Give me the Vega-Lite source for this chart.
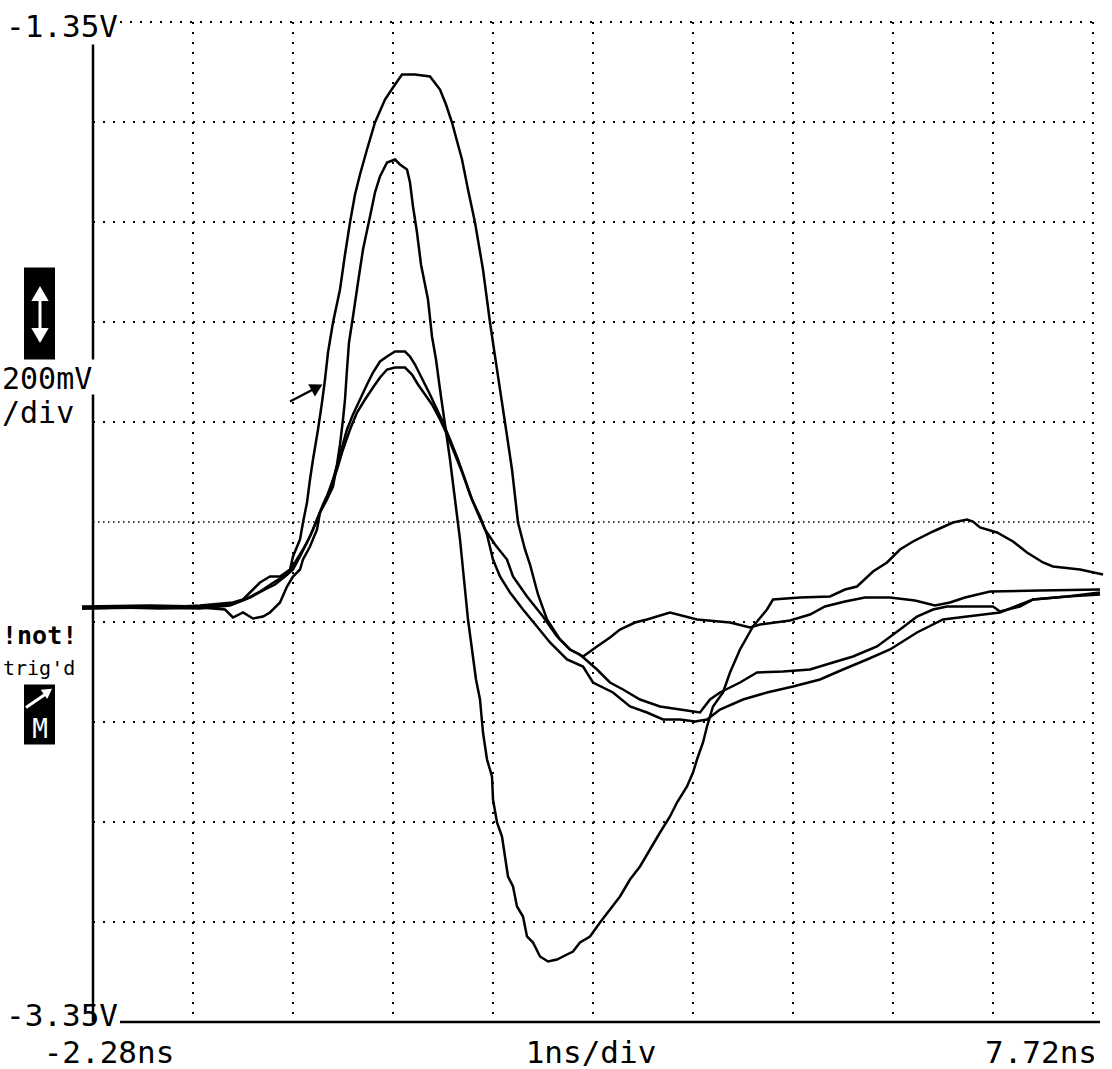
{
 "$schema": "https://vega.github.io/schema/vega-lite/v6.json",
 "width": 1000, "height": 1000,
 "autosize": {"type": "none"},
 "padding": {"left": 93, "top": 22, "right": 19, "bottom": 47},
 "background": "white",
 "config": {"view": {"stroke": null}, "text": {"font": "DejaVu Sans Mono"}},
 "datasets": {
  "hgrid": [
   {"t": -2.01, "t2": 7.72, "v": -1.35},
   {"t": -2.28, "t2": 7.72, "v": -1.55},
   {"t": -2.28, "t2": 7.72, "v": -1.75},
   {"t": -2.28, "t2": 7.72, "v": -1.95},
   {"t": -2.28, "t2": 7.72, "v": -2.15},
   {"t": -2.28, "t2": 7.72, "v": -2.55},
   {"t": -2.28, "t2": 7.72, "v": -2.75},
   {"t": -2.28, "t2": 7.72, "v": -2.95},
   {"t": -2.28, "t2": 7.72, "v": -3.15}
  ],
  "center": [{"t": -2.28, "t2": 7.72, "v": -2.35}],
  "vgrid": [
   {"t": -1.28, "v": -1.35, "v2": -3.35},
   {"t": -0.28, "v": -1.35, "v2": -3.35},
   {"t": 0.72, "v": -1.35, "v2": -3.35},
   {"t": 1.72, "v": -1.35, "v2": -3.35},
   {"t": 2.72, "v": -1.35, "v2": -3.35},
   {"t": 3.72, "v": -1.35, "v2": -3.35},
   {"t": 4.72, "v": -1.35, "v2": -3.35},
   {"t": 5.72, "v": -1.35, "v2": -3.35},
   {"t": 6.72, "v": -1.35, "v2": -3.35},
   {"t": 7.72, "v": -1.35, "v2": -3.35}
  ],
  "axislines": [
   {"t": -2.28, "t2": -2.28, "v": -1.395, "v2": -2.025},
   {"t": -2.28, "t2": -2.28, "v": -2.095, "v2": -3.35},
   {"t": -2.01, "t2": 7.79, "v": -3.35, "v2": -3.35}
  ],
  "curves": [
   {"s":"A","t":-2.39,"v":-2.521},{"s":"A","t":-2.01,"v":-2.519},{"s":"A","t":-1.61,"v":-2.521},{"s":"A","t":-1.21,"v":-2.517},{"s":"A","t":-0.88,"v":-2.511},{"s":"A","t":-0.78,"v":-2.505},{"s":"A","t":-0.68,"v":-2.485},{"s":"A","t":-0.61,"v":-2.471},{"s":"A","t":-0.51,"v":-2.459},{"s":"A","t":-0.41,"v":-2.459},{"s":"A","t":-0.31,"v":-2.445},{"s":"A","t":-0.28,"v":-2.419},{"s":"A","t":-0.21,"v":-2.385},{"s":"A","t":-0.18,"v":-2.351},{"s":"A","t":-0.14,"v":-2.311},{"s":"A","t":-0.11,"v":-2.265},{"s":"A","t":-0.08,"v":-2.225},{"s":"A","t":-0.03,"v":-2.165},{"s":"A","t":0.01,"v":-2.111},{"s":"A","t":0.04,"v":-2.065},{"s":"A","t":0.07,"v":-2.011},{"s":"A","t":0.12,"v":-1.951},{"s":"A","t":0.19,"v":-1.885},{"s":"A","t":0.24,"v":-1.815},{"s":"A","t":0.29,"v":-1.751},{"s":"A","t":0.34,"v":-1.695},{"s":"A","t":0.39,"v":-1.655},{"s":"A","t":0.46,"v":-1.605},{"s":"A","t":0.54,"v":-1.551},{"s":"A","t":0.64,"v":-1.505},{"s":"A","t":0.72,"v":-1.481},{"s":"A","t":0.81,"v":-1.455},{"s":"A","t":0.94,"v":-1.455},{"s":"A","t":1.09,"v":-1.459},{"s":"A","t":1.19,"v":-1.485},{"s":"A","t":1.25,"v":-1.515},{"s":"A","t":1.31,"v":-1.551},{"s":"A","t":1.41,"v":-1.625},{"s":"A","t":1.47,"v":-1.685},{"s":"A","t":1.54,"v":-1.751},{"s":"A","t":1.62,"v":-1.845},{"s":"A","t":1.69,"v":-1.951},{"s":"A","t":1.76,"v":-2.045},{"s":"A","t":1.84,"v":-2.151},{"s":"A","t":1.91,"v":-2.245},{"s":"A","t":1.97,"v":-2.351},{"s":"A","t":2.04,"v":-2.405},{"s":"A","t":2.09,"v":-2.435},{"s":"A","t":2.17,"v":-2.495},{"s":"A","t":2.26,"v":-2.545},{"s":"A","t":2.39,"v":-2.585},{"s":"A","t":2.49,"v":-2.605},{"s":"A","t":2.62,"v":-2.619},{"s":"A","t":2.76,"v":-2.599},{"s":"A","t":2.89,"v":-2.581},{"s":"A","t":2.99,"v":-2.565},{"s":"A","t":3.14,"v":-2.551},{"s":"A","t":3.26,"v":-2.545},{"s":"A","t":3.49,"v":-2.531},{"s":"A","t":3.76,"v":-2.545},{"s":"A","t":4.09,"v":-2.551},{"s":"A","t":4.29,"v":-2.561},{"s":"A","t":4.39,"v":-2.555},{"s":"A","t":4.69,"v":-2.547},{"s":"A","t":4.89,"v":-2.535},{"s":"A","t":5.04,"v":-2.519},{"s":"A","t":5.24,"v":-2.509},{"s":"A","t":5.44,"v":-2.501},{"s":"A","t":5.69,"v":-2.501},{"s":"A","t":5.94,"v":-2.507},{"s":"A","t":6.14,"v":-2.517},{"s":"A","t":6.29,"v":-2.511},{"s":"A","t":6.44,"v":-2.501},{"s":"A","t":6.69,"v":-2.489},{"s":"A","t":7.19,"v":-2.487},{"s":"A","t":7.79,"v":-2.485},
   {"s":"B","t":-2.39,"v":-2.523},{"s":"B","t":-2.01,"v":-2.521},{"s":"B","t":-1.61,"v":-2.523},{"s":"B","t":-1.21,"v":-2.521},{"s":"B","t":-0.96,"v":-2.525},{"s":"B","t":-0.88,"v":-2.541},{"s":"B","t":-0.78,"v":-2.531},{"s":"B","t":-0.68,"v":-2.543},{"s":"B","t":-0.58,"v":-2.539},{"s":"B","t":-0.51,"v":-2.531},{"s":"B","t":-0.41,"v":-2.511},{"s":"B","t":-0.34,"v":-2.479},{"s":"B","t":-0.28,"v":-2.459},{"s":"B","t":-0.21,"v":-2.445},{"s":"B","t":-0.18,"v":-2.425},{"s":"B","t":-0.11,"v":-2.399},{"s":"B","t":-0.04,"v":-2.365},{"s":"B","t":-0.01,"v":-2.331},{"s":"B","t":0.06,"v":-2.305},{"s":"B","t":0.12,"v":-2.279},{"s":"B","t":0.16,"v":-2.235},{"s":"B","t":0.19,"v":-2.195},{"s":"B","t":0.22,"v":-2.145},{"s":"B","t":0.24,"v":-2.105},{"s":"B","t":0.26,"v":-2.045},{"s":"B","t":0.28,"v":-1.991},{"s":"B","t":0.32,"v":-1.939},{"s":"B","t":0.37,"v":-1.871},{"s":"B","t":0.42,"v":-1.805},{"s":"B","t":0.49,"v":-1.739},{"s":"B","t":0.54,"v":-1.691},{"s":"B","t":0.59,"v":-1.659},{"s":"B","t":0.66,"v":-1.631},{"s":"B","t":0.74,"v":-1.625},{"s":"B","t":0.79,"v":-1.635},{"s":"B","t":0.86,"v":-1.645},{"s":"B","t":0.89,"v":-1.671},{"s":"B","t":0.92,"v":-1.719},{"s":"B","t":0.96,"v":-1.771},{"s":"B","t":1.0,"v":-1.835},{"s":"B","t":1.07,"v":-1.905},{"s":"B","t":1.11,"v":-1.979},{"s":"B","t":1.15,"v":-2.025},{"s":"B","t":1.19,"v":-2.085},{"s":"B","t":1.24,"v":-2.155},{"s":"B","t":1.29,"v":-2.225},{"s":"B","t":1.34,"v":-2.305},{"s":"B","t":1.39,"v":-2.385},{"s":"B","t":1.43,"v":-2.465},{"s":"B","t":1.47,"v":-2.545},{"s":"B","t":1.51,"v":-2.605},{"s":"B","t":1.55,"v":-2.665},{"s":"B","t":1.59,"v":-2.705},{"s":"B","t":1.62,"v":-2.771},{"s":"B","t":1.66,"v":-2.825},{"s":"B","t":1.71,"v":-2.859},{"s":"B","t":1.72,"v":-2.905},{"s":"B","t":1.76,"v":-2.951},{"s":"B","t":1.81,"v":-2.979},{"s":"B","t":1.84,"v":-3.019},{"s":"B","t":1.87,"v":-3.059},{"s":"B","t":1.92,"v":-3.079},{"s":"B","t":1.96,"v":-3.119},{"s":"B","t":2.02,"v":-3.139},{"s":"B","t":2.06,"v":-3.179},{"s":"B","t":2.12,"v":-3.191},{"s":"B","t":2.19,"v":-3.219},{"s":"B","t":2.27,"v":-3.229},{"s":"B","t":2.36,"v":-3.225},{"s":"B","t":2.42,"v":-3.219},{"s":"B","t":2.52,"v":-3.209},{"s":"B","t":2.59,"v":-3.191},{"s":"B","t":2.69,"v":-3.179},{"s":"B","t":2.79,"v":-3.151},{"s":"B","t":2.89,"v":-3.125},{"s":"B","t":2.99,"v":-3.099},{"s":"B","t":3.09,"v":-3.065},{"s":"B","t":3.19,"v":-3.039},{"s":"B","t":3.29,"v":-3.005},{"s":"B","t":3.39,"v":-2.971},{"s":"B","t":3.49,"v":-2.939},{"s":"B","t":3.56,"v":-2.911},{"s":"B","t":3.66,"v":-2.879},{"s":"B","t":3.72,"v":-2.851},{"s":"B","t":3.76,"v":-2.825},{"s":"B","t":3.82,"v":-2.791},{"s":"B","t":3.86,"v":-2.759},{"s":"B","t":3.92,"v":-2.719},{"s":"B","t":4.02,"v":-2.691},{"s":"B","t":4.09,"v":-2.651},{"s":"B","t":4.19,"v":-2.605},{"s":"B","t":4.32,"v":-2.559},{"s":"B","t":4.46,"v":-2.525},{"s":"B","t":4.52,"v":-2.505},{"s":"B","t":4.79,"v":-2.501},{"s":"B","t":5.09,"v":-2.499},{"s":"B","t":5.24,"v":-2.485},{"s":"B","t":5.36,"v":-2.479},{"s":"B","t":5.52,"v":-2.449},{"s":"B","t":5.66,"v":-2.431},{"s":"B","t":5.79,"v":-2.405},{"s":"B","t":5.92,"v":-2.389},{"s":"B","t":6.12,"v":-2.369},{"s":"B","t":6.32,"v":-2.351},{"s":"B","t":6.46,"v":-2.345},{"s":"B","t":6.52,"v":-2.349},{"s":"B","t":6.59,"v":-2.361},{"s":"B","t":6.76,"v":-2.371},{"s":"B","t":6.92,"v":-2.389},{"s":"B","t":7.06,"v":-2.411},{"s":"B","t":7.22,"v":-2.431},{"s":"B","t":7.32,"v":-2.439},{"s":"B","t":7.59,"v":-2.445},{"s":"B","t":7.82,"v":-2.455},
   {"s":"C","t":-2.39,"v":-2.519},{"s":"C","t":-1.71,"v":-2.517},{"s":"C","t":-1.21,"v":-2.519},{"s":"C","t":-0.91,"v":-2.515},{"s":"C","t":-0.71,"v":-2.501},{"s":"C","t":-0.56,"v":-2.485},{"s":"C","t":-0.46,"v":-2.475},{"s":"C","t":-0.36,"v":-2.459},{"s":"C","t":-0.28,"v":-2.445},{"s":"C","t":-0.21,"v":-2.419},{"s":"C","t":-0.14,"v":-2.391},{"s":"C","t":-0.08,"v":-2.365},{"s":"C","t":-0.01,"v":-2.331},{"s":"C","t":0.06,"v":-2.299},{"s":"C","t":0.12,"v":-2.265},{"s":"C","t":0.19,"v":-2.215},{"s":"C","t":0.26,"v":-2.165},{"s":"C","t":0.32,"v":-2.135},{"s":"C","t":0.39,"v":-2.105},{"s":"C","t":0.46,"v":-2.075},{"s":"C","t":0.52,"v":-2.051},{"s":"C","t":0.59,"v":-2.029},{"s":"C","t":0.66,"v":-2.019},{"s":"C","t":0.74,"v":-2.009},{"s":"C","t":0.84,"v":-2.009},{"s":"C","t":0.89,"v":-2.019},{"s":"C","t":0.94,"v":-2.035},{"s":"C","t":0.99,"v":-2.055},{"s":"C","t":1.04,"v":-2.075},{"s":"C","t":1.09,"v":-2.095},{"s":"C","t":1.16,"v":-2.125},{"s":"C","t":1.22,"v":-2.151},{"s":"C","t":1.29,"v":-2.185},{"s":"C","t":1.37,"v":-2.225},{"s":"C","t":1.44,"v":-2.265},{"s":"C","t":1.51,"v":-2.305},{"s":"C","t":1.59,"v":-2.339},{"s":"C","t":1.66,"v":-2.375},{"s":"C","t":1.72,"v":-2.425},{"s":"C","t":1.79,"v":-2.459},{"s":"C","t":1.89,"v":-2.491},{"s":"C","t":2.02,"v":-2.525},{"s":"C","t":2.16,"v":-2.559},{"s":"C","t":2.29,"v":-2.591},{"s":"C","t":2.46,"v":-2.625},{"s":"C","t":2.62,"v":-2.639},{"s":"C","t":2.72,"v":-2.671},{"s":"C","t":2.92,"v":-2.691},{"s":"C","t":3.09,"v":-2.719},{"s":"C","t":3.26,"v":-2.731},{"s":"C","t":3.42,"v":-2.745},{"s":"C","t":3.59,"v":-2.745},{"s":"C","t":3.74,"v":-2.749},{"s":"C","t":3.86,"v":-2.745},{"s":"C","t":3.99,"v":-2.725},{"s":"C","t":4.22,"v":-2.705},{"s":"C","t":4.46,"v":-2.691},{"s":"C","t":4.72,"v":-2.679},{"s":"C","t":4.99,"v":-2.665},{"s":"C","t":5.22,"v":-2.645},{"s":"C","t":5.46,"v":-2.625},{"s":"C","t":5.69,"v":-2.605},{"s":"C","t":5.96,"v":-2.571},{"s":"C","t":6.22,"v":-2.545},{"s":"C","t":6.46,"v":-2.539},{"s":"C","t":6.79,"v":-2.531},{"s":"C","t":7.12,"v":-2.505},{"s":"C","t":7.46,"v":-2.499},{"s":"C","t":7.79,"v":-2.495},
   {"s":"D","t":-2.39,"v":-2.523},{"s":"D","t":-1.71,"v":-2.521},{"s":"D","t":-1.21,"v":-2.523},{"s":"D","t":-0.91,"v":-2.517},{"s":"D","t":-0.76,"v":-2.505},{"s":"D","t":-0.61,"v":-2.489},{"s":"D","t":-0.46,"v":-2.469},{"s":"D","t":-0.34,"v":-2.455},{"s":"D","t":-0.26,"v":-2.431},{"s":"D","t":-0.18,"v":-2.405},{"s":"D","t":-0.11,"v":-2.379},{"s":"D","t":-0.04,"v":-2.345},{"s":"D","t":0.02,"v":-2.315},{"s":"D","t":0.09,"v":-2.285},{"s":"D","t":0.16,"v":-2.245},{"s":"D","t":0.22,"v":-2.205},{"s":"D","t":0.29,"v":-2.165},{"s":"D","t":0.36,"v":-2.131},{"s":"D","t":0.44,"v":-2.105},{"s":"D","t":0.52,"v":-2.081},{"s":"D","t":0.59,"v":-2.061},{"s":"D","t":0.66,"v":-2.045},{"s":"D","t":0.74,"v":-2.041},{"s":"D","t":0.84,"v":-2.041},{"s":"D","t":0.91,"v":-2.055},{"s":"D","t":0.97,"v":-2.075},{"s":"D","t":1.04,"v":-2.095},{"s":"D","t":1.11,"v":-2.115},{"s":"D","t":1.19,"v":-2.145},{"s":"D","t":1.26,"v":-2.175},{"s":"D","t":1.34,"v":-2.215},{"s":"D","t":1.42,"v":-2.255},{"s":"D","t":1.49,"v":-2.295},{"s":"D","t":1.56,"v":-2.329},{"s":"D","t":1.64,"v":-2.365},{"s":"D","t":1.74,"v":-2.395},{"s":"D","t":1.86,"v":-2.425},{"s":"D","t":1.92,"v":-2.459},{"s":"D","t":2.06,"v":-2.499},{"s":"D","t":2.22,"v":-2.539},{"s":"D","t":2.36,"v":-2.579},{"s":"D","t":2.49,"v":-2.605},{"s":"D","t":2.59,"v":-2.615},{"s":"D","t":2.76,"v":-2.645},{"s":"D","t":2.89,"v":-2.671},{"s":"D","t":3.02,"v":-2.685},{"s":"D","t":3.19,"v":-2.705},{"s":"D","t":3.39,"v":-2.719},{"s":"D","t":3.59,"v":-2.725},{"s":"D","t":3.79,"v":-2.731},{"s":"D","t":3.89,"v":-2.705},{"s":"D","t":3.99,"v":-2.691},{"s":"D","t":4.19,"v":-2.671},{"s":"D","t":4.36,"v":-2.651},{"s":"D","t":4.62,"v":-2.649},{"s":"D","t":4.89,"v":-2.645},{"s":"D","t":5.12,"v":-2.631},{"s":"D","t":5.32,"v":-2.619},{"s":"D","t":5.56,"v":-2.599},{"s":"D","t":5.79,"v":-2.565},{"s":"D","t":5.96,"v":-2.539},{"s":"D","t":6.12,"v":-2.525},{"s":"D","t":6.26,"v":-2.519},{"s":"D","t":6.39,"v":-2.519},{"s":"D","t":6.72,"v":-2.519},{"s":"D","t":6.79,"v":-2.529},{"s":"D","t":6.99,"v":-2.519},{"s":"D","t":7.12,"v":-2.505},{"s":"D","t":7.46,"v":-2.499},{"s":"D","t":7.79,"v":-2.491}
  ],
  "marker": [{"t": -0.31, "t2": -0.08, "v": -2.109, "v2": -2.085}],
  "markerhead": [{"t": -0.04, "v": -2.081}],
  "boxes": [
   {"t": -2.97, "t2": -2.66, "v": -1.841, "v2": -2.025},
   {"t": -2.97, "t2": -2.66, "v": -2.675, "v2": -2.795}
  ],
  "wshaft": [
   {"t": -2.81, "t2": -2.81, "v": -1.885, "v2": -1.985},
   {"t": -2.95, "t2": -2.76, "v": -2.721, "v2": -2.695}
  ],
  "wup": [{"t": -2.81, "v": -1.893}],
  "wdown": [{"t": -2.81, "v": -1.977}],
  "wdiag": [{"t": -2.73, "v": -2.689}],
  "bigRight": [
   {"t": -2.03, "v": -1.361, "label": "-1.35V"},
   {"t": -2.03, "v": -3.339, "label": "-3.35V"},
   {"t": 7.76, "v": -3.413, "label": "7.72ns"}
  ],
  "bigCenter": [
   {"t": -2.12, "v": -3.413, "label": "-2.28ns"},
   {"t": 2.70, "v": -3.413, "label": "1ns/div"}
  ],
  "bigLeft": [
   {"t": -3.19, "v": -2.065, "label": "200mV"},
   {"t": -3.19, "v": -2.133, "label": "/div"}
  ],
  "boldLabel": [{"t": -3.19, "v": -2.577, "label": "!not!"}],
  "smallLabel": [{"t": -3.18, "v": -2.655, "label": "trig'd"}],
  "mLabel": [{"t": -2.81, "v": -2.766, "label": "M"}]
 },
 "encoding": {
  "x": {"field": "t", "type": "quantitative", "scale": {"domain": [-2.28, 7.72], "nice": false, "zero": false}, "axis": null},
  "y": {"field": "v", "type": "quantitative", "scale": {"domain": [-3.35, -1.35], "nice": false, "zero": false}, "axis": null}
 },
 "layer": [
  {"data": {"name": "hgrid"}, "mark": {"type": "rule", "color": "black", "strokeWidth": 2, "strokeDash": [2, 8], "clip": false}, "encoding": {"x2": {"field": "t2"}}},
  {"data": {"name": "center"}, "mark": {"type": "rule", "color": "black", "strokeWidth": 1.5, "strokeDash": [1.5, 3.5], "clip": false}, "encoding": {"x2": {"field": "t2"}}},
  {"data": {"name": "vgrid"}, "mark": {"type": "rule", "color": "black", "strokeWidth": 2, "strokeDash": [2, 8], "clip": false}, "encoding": {"y2": {"field": "v2"}}},
  {"data": {"name": "axislines"}, "mark": {"type": "rule", "color": "black", "strokeWidth": 2.5, "clip": false}, "encoding": {"x2": {"field": "t2"}, "y2": {"field": "v2"}}},
  {"data": {"name": "curves"}, "mark": {"type": "line", "color": "black", "strokeWidth": 2.5, "strokeJoin": "miter", "clip": false}, "encoding": {"detail": {"field": "s"}}},
  {"data": {"name": "marker"}, "mark": {"type": "rule", "color": "black", "strokeWidth": 2.5, "clip": false}, "encoding": {"x2": {"field": "t2"}, "y2": {"field": "v2"}}},
  {"data": {"name": "markerhead"}, "mark": {"type": "point", "shape": "triangle-right", "filled": true, "color": "black", "opacity": 1, "size": 200, "angle": 332, "clip": false}},
  {"data": {"name": "boxes"}, "mark": {"type": "rect", "color": "black", "clip": false}, "encoding": {"x2": {"field": "t2"}, "y2": {"field": "v2"}}},
  {"data": {"name": "wshaft"}, "mark": {"type": "rule", "color": "white", "strokeWidth": 3, "clip": false}, "encoding": {"x2": {"field": "t2"}, "y2": {"field": "v2"}}},
  {"data": {"name": "wup"}, "mark": {"type": "point", "shape": "triangle-up", "filled": true, "color": "white", "opacity": 1, "size": 300, "clip": false}},
  {"data": {"name": "wdown"}, "mark": {"type": "point", "shape": "triangle-down", "filled": true, "color": "white", "opacity": 1, "size": 300, "clip": false}},
  {"data": {"name": "wdiag"}, "mark": {"type": "point", "shape": "triangle-right", "filled": true, "color": "white", "opacity": 1, "size": 130, "angle": 325, "clip": false}},
  {"data": {"name": "bigRight"}, "mark": {"type": "text", "fontSize": 31, "align": "right", "baseline": "middle", "color": "black", "clip": false}, "encoding": {"text": {"field": "label"}}},
  {"data": {"name": "bigCenter"}, "mark": {"type": "text", "fontSize": 31, "align": "center", "baseline": "middle", "color": "black", "clip": false}, "encoding": {"text": {"field": "label"}}},
  {"data": {"name": "bigLeft"}, "mark": {"type": "text", "fontSize": 30, "align": "left", "baseline": "middle", "color": "black", "clip": false}, "encoding": {"text": {"field": "label"}}},
  {"data": {"name": "boldLabel"}, "mark": {"type": "text", "fontSize": 25, "fontWeight": "bold", "align": "left", "baseline": "middle", "color": "black", "clip": false}, "encoding": {"text": {"field": "label"}}},
  {"data": {"name": "smallLabel"}, "mark": {"type": "text", "fontSize": 20, "align": "left", "baseline": "alphabetic", "color": "black", "clip": false}, "encoding": {"text": {"field": "label"}}},
  {"data": {"name": "mLabel"}, "mark": {"type": "text", "fontSize": 26, "align": "center", "baseline": "middle", "color": "white", "clip": false}, "encoding": {"text": {"field": "label"}}}
 ]
}
